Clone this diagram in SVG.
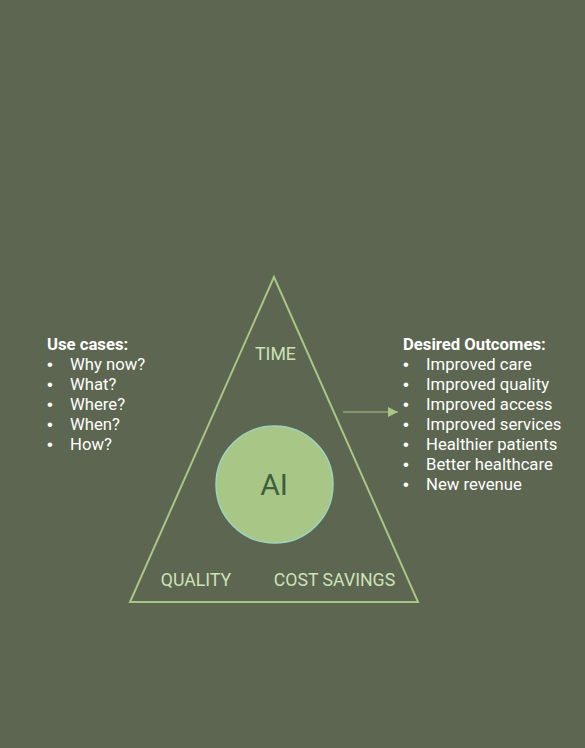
<svg xmlns="http://www.w3.org/2000/svg" width="585" height="748" viewBox="0 0 585 748">
<defs>
<style>
.lbl{font-family:Roboto,"Liberation Sans",sans-serif;font-size:17.7px;fill:#cde3b5}
.txt{font-family:Roboto,"Liberation Sans",sans-serif;font-size:16.7px;fill:#ffffff}
.hd{font-weight:bold}
.bul{font-family:"Liberation Sans",Arial,sans-serif;font-size:16.7px;fill:#ffffff}
</style>
<marker id="ah" markerWidth="10" markerHeight="10" refX="10" refY="5" orient="auto" markerUnits="userSpaceOnUse">
<path d="M0,0 L10,5 L0,10 Z" fill="#a8c686"/>
</marker>
</defs>
<rect width="585" height="748" fill="#5c6650"/>
<g id="triangle">
<polygon points="274,277 130,602 418,602" fill="none" stroke="#a8c686" stroke-width="2"/>
<text class="lbl" x="275.5" y="360" text-anchor="middle">TIME</text>
<text class="lbl" x="196" y="586" text-anchor="middle">QUALITY</text>
<text class="lbl" x="334.5" y="586" text-anchor="middle">COST SAVINGS</text>
</g>
<g id="ai">
<circle cx="274.5" cy="484.5" r="58.5" fill="#a8c686" stroke="#9dd3bd" stroke-width="1.5"/>
<text x="274" y="494.5" text-anchor="middle" font-family="Roboto,'Liberation Sans',sans-serif" font-size="30" fill="#3e5f3f">AI</text>
</g>
<g id="connectors">
<line x1="343" y1="412" x2="398" y2="412" stroke="#a8c686" stroke-width="1.2" marker-end="url(#ah)"/>
</g>
<g id="use-cases">
<text class="txt hd" x="47" y="350">Use cases:</text>
<text class="bul" x="47" y="370">•</text><text class="txt" x="70" y="370">Why now?</text>
<text class="bul" x="47" y="390">•</text><text class="txt" x="70" y="390">What?</text>
<text class="bul" x="47" y="410">•</text><text class="txt" x="70" y="410">Where?</text>
<text class="bul" x="47" y="430">•</text><text class="txt" x="70" y="430">When?</text>
<text class="bul" x="47" y="450">•</text><text class="txt" x="70" y="450">How?</text>
</g>
<g id="outcomes">
<text class="txt hd" x="403" y="350">Desired Outcomes:</text>
<text class="bul" x="403" y="370">•</text><text class="txt" x="426" y="370">Improved care</text>
<text class="bul" x="403" y="390">•</text><text class="txt" x="426" y="390">Improved quality</text>
<text class="bul" x="403" y="410">•</text><text class="txt" x="426" y="410">Improved access</text>
<text class="bul" x="403" y="430">•</text><text class="txt" x="426" y="430">Improved services</text>
<text class="bul" x="403" y="450">•</text><text class="txt" x="426" y="450">Healthier patients</text>
<text class="bul" x="403" y="470">•</text><text class="txt" x="426" y="470">Better healthcare</text>
<text class="bul" x="403" y="490">•</text><text class="txt" x="426" y="490">New revenue</text>
</g>
</svg>
